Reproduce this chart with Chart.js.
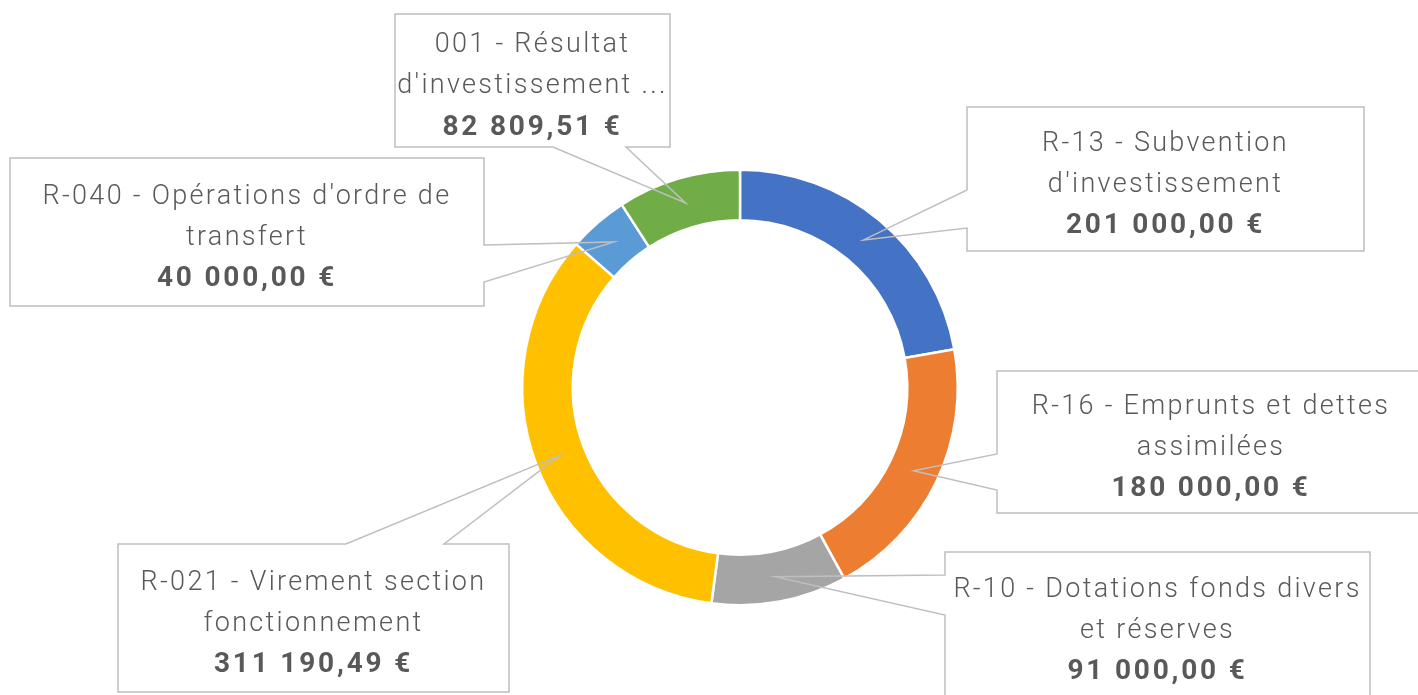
<!DOCTYPE html>
<html>
<head>
<meta charset="utf-8">
<script src="https://cdn.jsdelivr.net/npm/chart.js@4"></script>
<style>
  html, body { margin: 0; padding: 0; background: #fff; }
  #wrap { width: 1418px; height: 695px; position: relative; }
</style>
</head>
<body>
<div id="wrap"><canvas id="donut"></canvas></div>
<script>
const categories = [
  ['R-13 - Subvention', "d'investissement"],
  ['R-16 - Emprunts et dettes', 'assimilées'],
  ['R-10 - Dotations fonds divers', 'et réserves'],
  ['R-021 - Virement section', 'fonctionnement'],
  ["R-040 - Opérations d'ordre de", 'transfert'],
  ['001 - Résultat', "d'investissement ..."]
];
const amounts = [201000.00, 180000.00, 91000.00, 311190.49, 40000.00, 82809.51];
const colors = ['#4472C4', '#ED7D31', '#A5A5A5', '#FFC000', '#5B9BD5', '#70AD47'];

// callout boxes: [x, y, w, h], side the pointer leaves from, and the two base points on that side
const boxes = [
  { rect: [967, 107, 397, 144], side: 'left', base: [190, 228] },
  { rect: [997, 371, 428, 142], side: 'left', base: [454, 490] },
  { rect: [945, 552, 425, 146], side: 'left', base: [575, 615] },
  { rect: [118, 544, 391, 148], side: 'top', base: [346, 444] },
  { rect: [10, 158, 474, 148], side: 'right', base: [245, 282] },
  { rect: [395, 14, 275, 133], side: 'bottom', base: [553, 626] }
];

function euro(v) {
  const parts = v.toFixed(2).split('.');
  const int = parts[0].replace(/\B(?=(\d{3})+(?!\d))/g, ' ');
  return int + ',' + parts[1] + ' €';
}

function calloutPath(ctx, b, tip) {
  const [x, y, w, h] = b.rect;
  const [p, q] = b.base;
  ctx.beginPath();
  ctx.moveTo(x, y);
  if (b.side === 'top') { ctx.lineTo(p, y); ctx.lineTo(tip.x, tip.y); ctx.lineTo(q, y); }
  ctx.lineTo(x + w, y);
  if (b.side === 'right') { ctx.lineTo(x + w, p); ctx.lineTo(tip.x, tip.y); ctx.lineTo(x + w, q); }
  ctx.lineTo(x + w, y + h);
  if (b.side === 'bottom') { ctx.lineTo(q, y + h); ctx.lineTo(tip.x, tip.y); ctx.lineTo(p, y + h); }
  ctx.lineTo(x, y + h);
  if (b.side === 'left') { ctx.lineTo(x, q); ctx.lineTo(tip.x, tip.y); ctx.lineTo(x, p); }
  ctx.closePath();
}

const callouts = {
  id: 'callouts',
  afterDatasetsDraw(chart) {
    const ctx = chart.ctx;
    const meta = chart.getDatasetMeta(0);
    ctx.save();
    meta.data.forEach((arc, i) => {
      const b = boxes[i];
      const tip = arc.tooltipPosition();
      calloutPath(ctx, b, tip);
      ctx.lineWidth = 1.5;
      ctx.strokeStyle = '#BFBFBF';
      ctx.stroke();

      const [x, y, w, h] = b.rect;
      const cx = x + w / 2;
      const cy = y + h / 2 + 6;
      const lines = chart.data.labels[i];
      ctx.textAlign = 'center';
      ctx.textBaseline = 'middle';
      ctx.fillStyle = '#595959';
      ctx.font = '300 27px Roboto';
      ctx.letterSpacing = '2.3px';
      ctx.fillText(lines[0], cx, cy - 41);
      ctx.fillText(lines[1], cx, cy);
      ctx.font = 'bold 28px Roboto';
      ctx.letterSpacing = '2.8px';
      ctx.fillText(euro(chart.data.datasets[0].data[i]), cx, cy + 41);
    });
    ctx.restore();
  }
};

new Chart(document.getElementById('donut'), {
  type: 'doughnut',
  data: {
    labels: categories,
    datasets: [{
      data: amounts,
      backgroundColor: colors,
      borderColor: '#ffffff',
      borderWidth: 2.5
    }]
  },
  options: {
    responsive: true,
    maintainAspectRatio: false,
    animation: false,
    cutout: '76.8%',
    layout: { padding: { top: 168, bottom: 88, left: 521, right: 459 } },
    plugins: {
      legend: { display: false },
      tooltip: { enabled: false }
    }
  },
  plugins: [callouts]
});
</script>
</body>
</html>
